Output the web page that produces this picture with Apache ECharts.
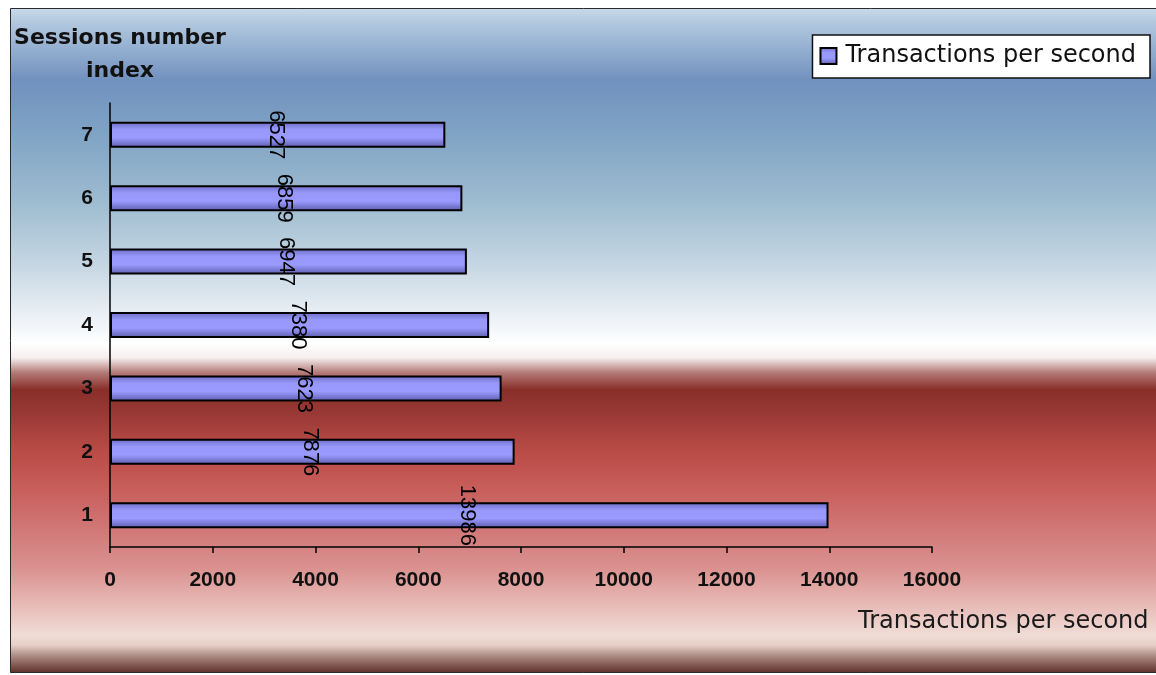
<!DOCTYPE html>
<html>
<head>
<meta charset="utf-8">
<script src="https://cdn.jsdelivr.net/npm/echarts@6/dist/echarts.min.js"></script>
<style>
  html, body { margin: 0; padding: 0; background: #ffffff; }
  #chart { width: 1156px; height: 675px; }
</style>
</head>
<body>
<div id="chart"></div>
<script>
// Sessions number index (bottom to top) and measured throughput
const sessionIndex = ['1', '2', '3', '4', '5', '6', '7'];
const transactionsPerSecond = [13986, 7876, 7623, 7380, 6947, 6859, 6527];
const xTicks = { min: 0, max: 16000, interval: 2000 };

const seriesName = 'Transactions per second';

const chart = echarts.init(document.getElementById('chart'));

// Panel backdrop: blue sky fading to white, then red band to a dark base
const panelFill = new echarts.graphic.LinearGradient(0, 0, 0, 1, [
  { offset: 0.000, color: '#c9dbeb' },
  { offset: 0.020, color: '#b3c9df' },
  { offset: 0.108, color: '#7191bf' },
  { offset: 0.183, color: '#7ea2c4' },
  { offset: 0.289, color: '#9dbbd0' },
  { offset: 0.379, color: '#c2d4e1' },
  { offset: 0.454, color: '#e6edf3' },
  { offset: 0.505, color: '#ffffff' },
  { offset: 0.526, color: '#f6eeee' },
  { offset: 0.548, color: '#b47c78' },
  { offset: 0.574, color: '#8a2e29' },
  { offset: 0.610, color: '#993935' },
  { offset: 0.665, color: '#b94b46' },
  { offset: 0.712, color: '#c65a56' },
  { offset: 0.785, color: '#d17878' },
  { offset: 0.845, color: '#da9391' },
  { offset: 0.890, color: '#e6b5b1' },
  { offset: 0.943, color: '#f0dcd6' },
  { offset: 0.958, color: '#e6d0c8' },
  { offset: 0.974, color: '#ad8c85' },
  { offset: 1.000, color: '#5e2f28' }
]);

const barFill = new echarts.graphic.LinearGradient(0, 0, 0, 1, [
  { offset: 0.00, color: '#6a6ac4' },
  { offset: 0.30, color: '#9898fa' },
  { offset: 0.62, color: '#9a9aff' },
  { offset: 0.85, color: '#7474cc' },
  { offset: 1.00, color: '#5a5aa6' }
]);

chart.setOption({
  animation: false,
  graphic: [{
    type: 'rect',
    z: -10,
    silent: true,
    shape: { x: 10.5, y: 8.5, width: 1150, height: 664 },
    style: { fill: panelFill, stroke: '#2a2a2a', lineWidth: 1 }
  }],
  legend: {
    data: [seriesName],
    right: 6,
    top: 35,
    orient: 'horizontal',
    backgroundColor: '#ffffff',
    borderColor: '#111111',
    borderWidth: 1.5,
    borderRadius: 0,
    padding: [9, 14, 10, 7],
    itemWidth: 16,
    itemHeight: 16,
    itemGap: 0,
    icon: 'rect',
    textStyle: {
      fontFamily: 'DejaVu Sans',
      fontSize: 24,
      color: '#111111',
      padding: [0, 0, 0, 4]
    }
  },
  grid: {
    left: 110,
    right: 224,
    top: 103,
    bottom: 128,
    containLabel: false,
    outerBoundsMode: 'none'
  },
  xAxis: {
    type: 'value',
    min: xTicks.min,
    max: xTicks.max,
    interval: xTicks.interval,
    name: 'Transactions per second',
    nameLocation: 'end',
    nameGap: -74,
    nameTextStyle: {
      fontFamily: 'DejaVu Sans',
      fontSize: 24,
      color: '#1a1a1a',
      align: 'left',
      verticalAlign: 'top',
      padding: [63, 0, 0, 0]
    },
    splitLine: { show: false },
    axisLine: { show: true, lineStyle: { color: '#000000', width: 1.5 } },
    axisTick: { show: true, length: 6, lineStyle: { color: '#000000', width: 1.5 } },
    axisLabel: {
      margin: 23,
      fontFamily: 'Liberation Sans',
      fontWeight: 'bold',
      fontSize: 21,
      color: '#111111',
      formatter: function (v) { return String(v); }
    }
  },
  yAxis: {
    type: 'category',
    data: sessionIndex,
    name: 'Sessions number\nindex',
    nameLocation: 'end',
    nameGap: 15,
    nameTextStyle: {
      fontFamily: 'DejaVu Sans',
      fontWeight: 'bold',
      fontSize: 22,
      color: '#111111',
      align: 'center',
      lineHeight: 33,
      padding: [0, 0, 0, 20]
    },
    axisLine: { show: true, lineStyle: { color: '#000000', width: 1.5 } },
    axisTick: { show: false },
    axisLabel: {
      margin: 17,
      fontFamily: 'Liberation Sans',
      fontWeight: 'bold',
      fontSize: 21,
      color: '#111111'
    }
  },
  series: [{
    name: seriesName,
    type: 'bar',
    data: transactionsPerSecond,
    barWidth: 26,
    itemStyle: {
      color: barFill,
      borderColor: '#000000',
      borderWidth: 2
    },
    label: {
      show: true,
      position: 'inside',
      rotate: -90,
      offset: [0, 2],
      fontFamily: 'Liberation Sans',
      fontSize: 22,
      color: '#000000'
    }
  }]
});
</script>
</body>
</html>
